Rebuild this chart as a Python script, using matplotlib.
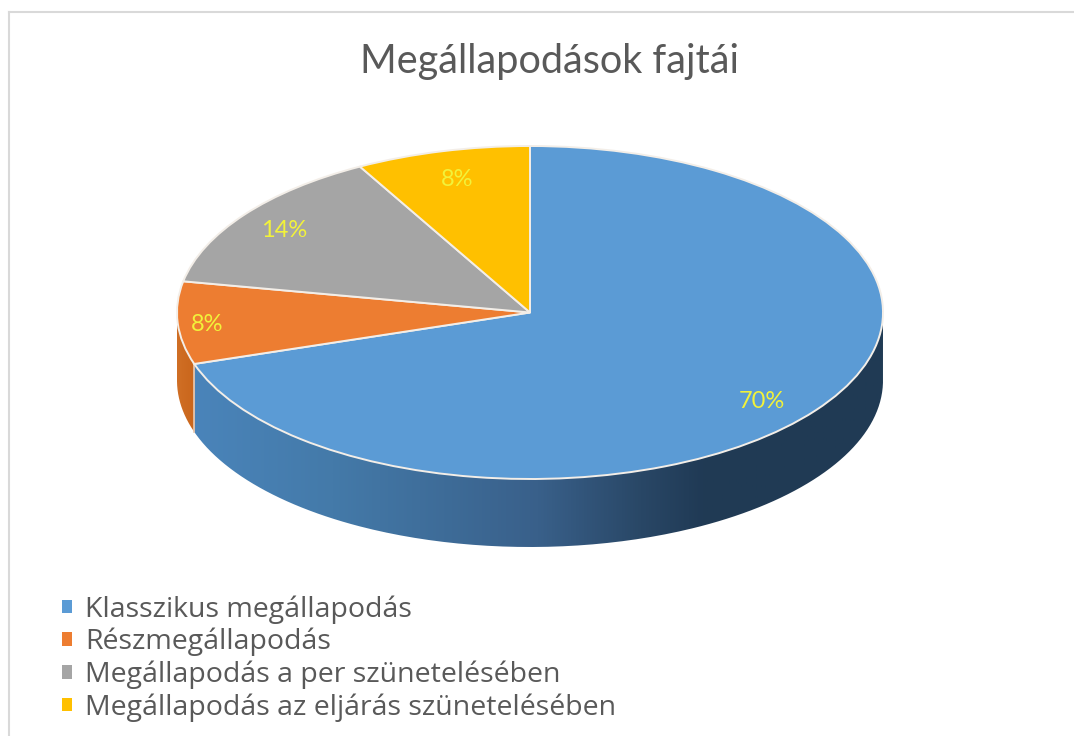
import numpy as np
import matplotlib
matplotlib.use('Agg')
import matplotlib.pyplot as plt
from matplotlib.colors import LinearSegmentedColormap
from matplotlib.lines import Line2D
from matplotlib.patches import PathPatch
from matplotlib.path import Path

plt.rcParams['font.family'] = ['Lato', 'DejaVu Sans']

# chart data
title = 'Megállapodások fajtái'
labels = ['Klasszikus megállapodás', 'Részmegállapodás',
          'Megállapodás a per szünetelésében', 'Megállapodás az eljárás szünetelésében']
values = [70, 8, 14, 8]
colors = ['#5B9BD5', '#ED7D31', '#A5A5A5', '#FFC000']

W, H = 1074, 736
CX, CY, RX, RY = 530, 312.5, 353, 166.5  # ellipse of the pie top, in pixels
DEPTH = 68 / RY
START = 90

fig = plt.figure(figsize=(W / 100, H / 100), dpi=100, facecolor='white')
ax = fig.add_axes([0, 0, 1, 1])

# wedge boundaries, clockwise from the top
sweep = 360 * np.cumsum(values) / np.sum(values)
blue_end = START - sweep[0] + 360


def side_band(a0, a1):
    # outline of the visible wall of the pie between two angles
    t = np.radians(np.linspace(a0, a1, 200))
    top = np.column_stack([np.cos(t), np.sin(t)])
    bottom = np.column_stack([np.cos(t), np.sin(t) - DEPTH])[::-1]
    return Path(np.vstack([top, bottom, top[:1]]))


grad_blue = LinearSegmentedColormap.from_list('side', [
    (0.0, '#4A84BA'), (0.2, '#447AA9'), (0.5, '#39608A'),
    (0.65, '#294766'), (0.74, '#203A55'), (1.0, '#203B54')])
grad_orange = LinearSegmentedColormap.from_list('side2', ['#D06F25', '#C9651B'])
ramp = np.linspace(0, 1, 512).reshape(1, -1)

# blue wall with horizontal gradient, clipped to its band
band = PathPatch(side_band(blue_end, 360), fc='none', ec='none', transform=ax.transData)
ax.add_patch(band)
im = ax.imshow(ramp, cmap=grad_blue, aspect='auto', zorder=1,
               extent=(np.cos(np.radians(blue_end)), 1, -1 - DEPTH, 1))
im.set_clip_path(band)

# small orange wall on the left
band2 = PathPatch(side_band(180, blue_end), fc='none', ec='none', transform=ax.transData)
ax.add_patch(band2)
im2 = ax.imshow(ramp, cmap=grad_orange, aspect='auto', zorder=1,
                extent=(-1, np.cos(np.radians(blue_end)), -1 - DEPTH, 1))
im2.set_clip_path(band2)

# seam between the two walls
seam_x = np.cos(np.radians(blue_end))
seam_y = np.sin(np.radians(blue_end))
ax.plot([seam_x, seam_x], [seam_y, seam_y - DEPTH], color='#E8C9B0', lw=1.2, zorder=2)

# top face
wedges, _, autotexts = ax.pie(values, colors=colors, startangle=START, counterclock=False,
                              autopct='%d%%', radius=1,
                              wedgeprops={'edgecolor': '#F3EEE8', 'linewidth': 1.4, 'zorder': 3},
                              textprops={'fontsize': 17, 'color': '#F2F23A'})

# labels sit at a different distance and angle in each slice
label_dist = [0.841, 0.917, 0.86, 0.835]
label_turn = [-2.6, 0, 0, 0]
for w, txt, d, turn in zip(wedges, autotexts, label_dist, label_turn):
    mid = np.radians((w.theta1 + w.theta2) / 2 + turn)
    txt.set_position((d * np.cos(mid), d * np.sin(mid) - 2 / RY))
    txt.set_zorder(5)

# pie() forces equal aspect, the squashed look needs it undone
ax.set_aspect('auto')
ax.set_xlim(-CX / RX, (W - CX) / RX)
ax.set_ylim((CY - H) / RY, CY / RY)
ax.axis('off')

fig.text(549 / W, 1 - 61 / H, title, ha='center', va='center', fontsize=28.5, color='#595959')

leg = ax.legend(wedges, labels, loc='upper left', bbox_to_anchor=(62 / W, 1 - 595 / H),
                bbox_transform=fig.transFigure, frameon=False,
                prop={'family': 'Open Sans', 'size': 20.5}, handlelength=0.35, handleheight=0.35,
                handletextpad=0.47, labelspacing=0.15, borderpad=0, borderaxespad=0,
                labelcolor='#595959')
for h in leg.legend_handles:
    h.set_edgecolor('none')

# thin frame of the screenshot
fig.add_artist(Line2D([9 / W, 9 / W], [0, 1 - 12 / H], color='#D9D9D9', lw=1.5))
fig.add_artist(Line2D([9 / W, 1], [1 - 12 / H, 1 - 12 / H], color='#D9D9D9', lw=1.5))

fig.savefig('out.png', dpi=100)
